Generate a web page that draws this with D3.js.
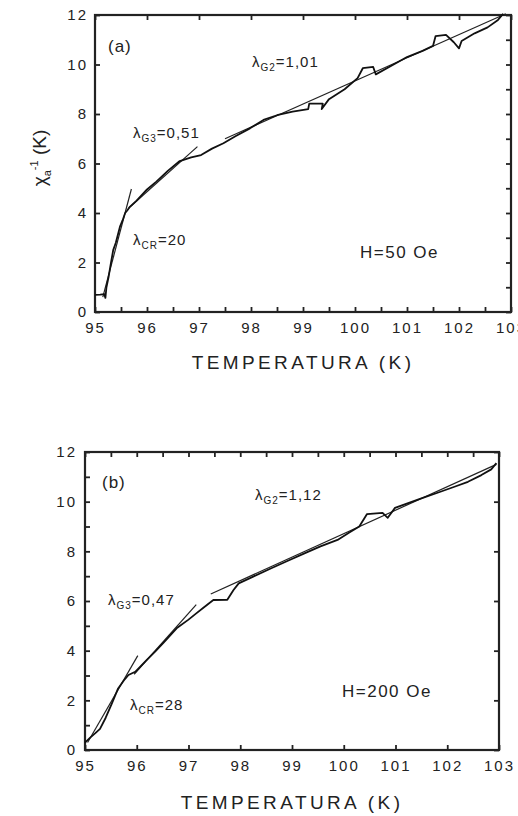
<!DOCTYPE html>
<html>
<head>
<meta charset="utf-8">
<script src="https://cdn.jsdelivr.net/npm/d3@7"></script>
<style>
  body { margin: 0; background: #fff; }
  svg { display: block; font-family: "Liberation Sans", Arial, sans-serif; }
  .tick text { font-size: 15px; letter-spacing: 2px; fill: #222; }
  .tick line { stroke: #222; stroke-width: 1.8; }
  .domain { display: none; }
</style>
</head>
<body>
<svg id="chart" width="518" height="816"></svg>
<script>
// panel (a): H = 50 Oe
const tempA = [95.00, 95.10, 95.18, 95.20, 95.22, 95.26, 95.30, 95.35, 95.40, 95.45, 95.48, 95.53,
  95.58, 95.62, 95.67, 95.80, 96.00, 96.18, 96.40, 96.63, 96.85, 97.04, 97.25, 97.47, 97.70,
  97.98, 98.24, 98.50, 98.80, 99.10, 99.12, 99.38, 99.36, 99.50, 99.80, 100.05, 100.15, 100.35,
  100.40, 100.70, 101.00, 101.30, 101.50, 101.55, 101.75, 101.90, 102.00, 102.05, 102.30,
  102.55, 102.75, 102.85];
const chiA = [0.69, 0.70, 0.72, 0.57, 1.00, 1.40, 1.90, 2.50, 2.80, 3.20, 3.45, 3.70,
  4.00, 4.10, 4.25, 4.50, 4.95, 5.27, 5.70, 6.10, 6.25, 6.34, 6.60, 6.82, 7.10,
  7.42, 7.76, 7.95, 8.10, 8.20, 8.42, 8.42, 8.20, 8.60, 9.00, 9.45, 9.85, 9.90,
  9.60, 9.95, 10.30, 10.55, 10.75, 11.15, 11.20, 10.90, 10.65, 10.95, 11.26,
  11.50, 11.80, 12.05];
// fitted lines [[T0, v0], [T1, v1]]
const fitsA = [
  [[95.15, 0.60], [95.70, 4.97]],
  [[95.65, 4.20], [96.97, 6.68]],
  [[97.50, 7.00], [102.90, 12.05]]
];

// panel (b): H = 200 Oe
const tempB = [95.00, 95.10, 95.20, 95.29, 95.40, 95.52, 95.64, 95.75, 95.84, 95.97, 96.19,
  96.35, 96.51, 96.77, 97.00, 97.15, 97.30, 97.48, 97.75, 97.87, 97.97, 98.25, 98.60, 98.90,
  99.24, 99.55, 99.88, 100.10, 100.30, 100.45, 100.75, 100.85, 100.99, 101.50, 101.80,
  102.14, 102.40, 102.66, 102.85, 102.95];
const chiB = [0.30, 0.50, 0.68, 0.85, 1.30, 1.88, 2.48, 2.80, 3.02, 3.15, 3.62,
  3.95, 4.30, 4.90, 5.25, 5.50, 5.75, 6.04, 6.05, 6.44, 6.71, 6.98, 7.32, 7.60,
  7.92, 8.20, 8.46, 8.75, 9.00, 9.50, 9.55, 9.35, 9.75, 10.13, 10.35,
  10.60, 10.80, 11.07, 11.30, 11.55];
const fitsB = [
  [[95.05, 0.30], [96.02, 3.80]],
  [[95.95, 3.05], [97.15, 5.85]],
  [[97.43, 6.28], [102.95, 11.50]]
];

const xDomain = [95, 103];
const yDomain = [0, 12];
const xLabels = [95, 96, 97, 98, 99, 100, 101, 102, 103];
const yLabels = [0, 2, 4, 6, 8, 10, 12];
const halfSteps = d3.range(95, 103.01, 0.5);
const unitSteps = d3.range(0, 12.01, 1);
const evenSteps = d3.range(0, 12.01, 2);

const svg = d3.select('#chart');
const ink = '#222';

function drawPanel(cfg) {
  const x = d3.scaleLinear().domain(xDomain).range([cfg.left, cfg.right]);
  const y = d3.scaleLinear().domain(yDomain).range([cfg.bottom, cfg.top]);
  const g = svg.append('g');

  // axes, ticks pointing inward; labels only on bottom and left
  g.append('g')
    .attr('transform', `translate(0,${cfg.bottom})`)
    .call(d3.axisBottom(x).tickValues(cfg.bottomTicks).tickSize(-5).tickSizeOuter(0)
      .tickPadding(10).tickFormat((d) => (Number.isInteger(d) ? d : '')));
  g.append('g')
    .attr('transform', `translate(0,${cfg.top})`)
    .call(d3.axisTop(x).tickValues(cfg.topTicks).tickSize(-5).tickSizeOuter(0).tickFormat(''));
  g.append('g')
    .attr('transform', `translate(${cfg.left},0)`)
    .call(d3.axisLeft(y).tickValues(cfg.leftTicks).tickSize(-5).tickSizeOuter(0)
      .tickPadding(cfg.yPad).tickFormat((d) => (yLabels.includes(d) ? d : '')));
  g.append('g')
    .attr('transform', `translate(${cfg.right},0)`)
    .call(d3.axisRight(y).tickValues(cfg.rightTicks).tickSize(-5).tickSizeOuter(0).tickFormat(''));

  // frame
  g.append('rect')
    .attr('x', cfg.left).attr('y', cfg.top)
    .attr('width', cfg.right - cfg.left).attr('height', cfg.bottom - cfg.top)
    .attr('fill', 'none').attr('stroke', ink).attr('stroke-width', 2.2);

  // fitted lines
  const line = d3.line().x((d) => x(d[0])).y((d) => y(d[1]));
  g.selectAll('path.fit')
    .data(cfg.fits)
    .join('path')
    .attr('class', 'fit')
    .attr('d', line)
    .attr('fill', 'none').attr('stroke', ink).attr('stroke-width', 1.2);

  // data curve
  const pts = cfg.temps.map((t, i) => [t, cfg.chis[i]]);
  g.append('path')
    .attr('d', line(pts))
    .attr('fill', 'none').attr('stroke', '#111').attr('stroke-width', 1.8)
    .attr('stroke-linejoin', 'round');

  // x title
  g.append('text')
    .attr('x', (cfg.left + cfg.right) / 2).attr('y', cfg.titleY)
    .attr('text-anchor', 'middle')
    .attr('font-size', 19).attr('letter-spacing', 3.4).attr('fill', ink)
    .text('TEMPERATURA (K)');

  // annotations
  g.append('text').attr('x', cfg.tag[0]).attr('y', cfg.tag[1])
    .attr('font-size', 17).attr('letter-spacing', 1).attr('fill', ink).text(cfg.tag[2]);
  g.append('text').attr('x', cfg.field[0]).attr('y', cfg.field[1])
    .attr('font-size', 17).attr('letter-spacing', 1.5).attr('fill', ink).text(cfg.field[2]);

  cfg.lambdas.forEach((l) => {
    const t = g.append('text').attr('x', l[0]).attr('y', l[1])
      .attr('font-size', 15).attr('fill', ink).attr('letter-spacing', 1);
    t.append('tspan').text('λ');
    t.append('tspan').attr('font-size', 10).attr('dy', 4).text(l[2]);
    t.append('tspan').attr('dy', -4).text('=' + l[3]);
  });
  return g;
}

drawPanel({
  left: 95, right: 511, top: 15, bottom: 312,
  bottomTicks: halfSteps, topTicks: xLabels, leftTicks: evenSteps, rightTicks: unitSteps,
  yPad: 7, temps: tempA, chis: chiA, fits: fitsA, titleY: 369,
  tag: [108, 52, '(a)'], field: [360, 258, 'H=50 Oe'],
  lambdas: [[133, 138, 'G3', '0,51'], [133, 245, 'CR', '20'], [252, 67, 'G2', '1,01']]
});

drawPanel({
  left: 85, right: 499, top: 452, bottom: 750,
  bottomTicks: xLabels, topTicks: halfSteps, leftTicks: unitSteps, rightTicks: evenSteps,
  yPad: 8, temps: tempB, chis: chiB, fits: fitsB, titleY: 809,
  tag: [102, 488, '(b)'], field: [342, 697, 'H=200 Oe'],
  lambdas: [[108, 605, 'G3', '0,47'], [130, 710, 'CR', '28'], [255, 500, 'G2', '1,12']]
});

// y axis title of panel (a)
const yTitle = svg.append('text')
  .attr('transform', 'translate(46,158) rotate(-90)')
  .attr('text-anchor', 'middle').attr('font-size', 19).attr('fill', ink);
yTitle.append('tspan').text('χ');
yTitle.append('tspan').attr('font-size', 11).attr('dy', 5).text('a');
yTitle.append('tspan').attr('font-size', 11).attr('dy', -13).text('-1');
yTitle.append('tspan').attr('dy', 8).text(' (K)');
</script>
</body>
</html>
